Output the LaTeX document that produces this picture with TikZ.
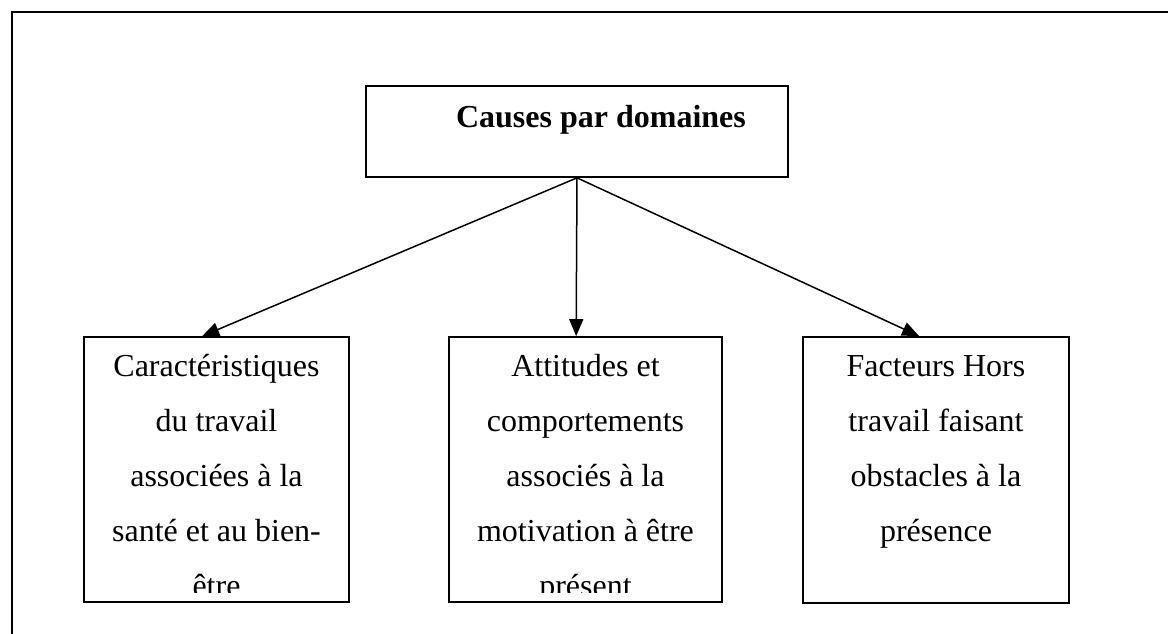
\documentclass[tikz,border=0pt]{standalone}
\usepackage{fontspec}
\setmainfont{Liberation Serif}
\usetikzlibrary{arrows.meta,calc}
\tikzset{
  frame/.style={draw, line width=2pt},
  boxline/.style={draw, line width=1.7pt, inner sep=0pt},
  conn/.style={line width=1.5pt, -{Triangle[length=17pt,width=14pt]}},
  txt/.style={anchor=base, align=center, inner sep=0pt, font=\fontsize{32}{55}\selectfont},
}
\begin{document}
\begin{tikzpicture}[x=1pt,y=-1pt]
\useasboundingbox (0,0) rectangle (1168,634);
\clip (0,0) rectangle (1168,634);
\draw[frame] (11.5,12.5) rectangle (1200,700);
% boxes
\node[boxline, minimum width=422pt, minimum height=91pt] (top) at (577,131.5) {};
\node[boxline, minimum width=265pt, minimum height=265pt] (left) at (216.5,469.5) {};
\node[boxline, minimum width=273pt, minimum height=265pt] (mid) at (585.5,469.5) {};
\node[boxline, minimum width=266pt, minimum height=266pt] (right) at (936,470) {};
% texts
\node[txt, font=\fontsize{32}{55}\selectfont\bfseries] (ttl) at (601,127) {Causes par domaines};
\begin{scope}
\clip (80,337) rectangle (1075,592);
\node[txt] (ltxt) at (216.5,596) {Caractéristiques\\du travail\\associées à la\\santé et au bien-\\être};
\node[txt] (mtxt) at (585.5,596) {Attitudes et\\comportements\\associés à la\\motivation à être\\présent};
\node[txt] (rtxt) at (936,541) {Facteurs Hors\\travail faisant\\obstacles à la\\présence};
\end{scope}
% connectors
\coordinate (lt) at ($(left.north west)+(119,0)$);
\coordinate (mt) at ($(mid.north west)+(128,0)$);
\coordinate (rt) at ($(right.north west)+(117,0)$);
\draw[conn] (top.south) -- (lt);
\draw[conn] (top.south) -- (mt);
\draw[conn] (top.south) -- (rt);
\end{tikzpicture}
\end{document}
